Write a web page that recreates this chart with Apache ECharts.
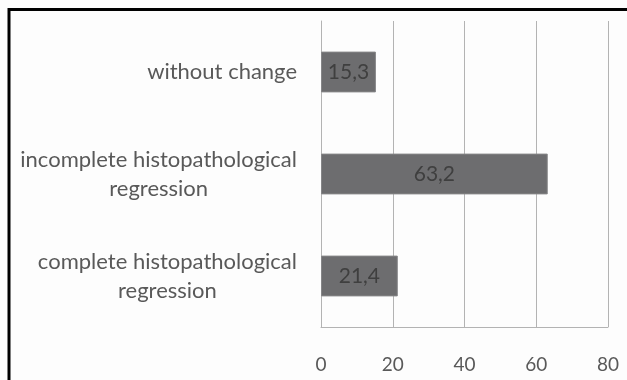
<!DOCTYPE html>
<html>
<head>
<meta charset="utf-8">
<script src="https://cdn.jsdelivr.net/npm/echarts@6/dist/echarts.min.js"></script>
<style>
  html, body { margin: 0; padding: 0; background: #fdfdfd; }
  #chart { width: 627px; height: 380px; }
</style>
</head>
<body>
<div id="chart"></div>
<script>
// bottom to top, as the category axis draws them
const categories = [
  'complete histopathological\nregression',
  'incomplete histopathological\nregression',
  'without change',
];
const values = [21.4, 63.2, 15.3];
const xTicks = [0, 20, 40, 60, 80];

const FONT = 'Lato';
const GRID_GREY = '#b3b3b3';

const chart = echarts.init(document.getElementById('chart'), null, { renderer: 'canvas' });

chart.setOption({
  backgroundColor: '#fdfdfd',
  animation: false,
  graphic: [{
    type: 'rect',
    shape: { x: 9, y: 9.5, width: 640, height: 400 },
    style: { fill: 'none', stroke: '#000', lineWidth: 3 },
    silent: true,
  }],
  grid: { left: 321, right: 19, top: 21, bottom: 53 },
  xAxis: {
    type: 'value',
    min: xTicks[0],
    max: xTicks[xTicks.length - 1],
    interval: xTicks[1] - xTicks[0],
    axisLine: { show: true, lineStyle: { color: GRID_GREY, width: 1 } },
    axisTick: { show: false },
    splitLine: { show: true, lineStyle: { color: GRID_GREY, width: 1 } },
    axisLabel: { margin: 28, color: '#595959', fontFamily: FONT, fontSize: 19 },
  },
  yAxis: {
    type: 'category',
    data: categories,
    axisLine: { show: true, lineStyle: { color: GRID_GREY, width: 1 } },
    axisTick: { show: false },
    axisLabel: {
      margin: 24,
      align: 'right',
      color: '#595959',
      fontFamily: FONT,
      fontSize: 22,
      lineHeight: 29,
      formatter: v => v.split('\n').map(s => '{c|' + s + '}').join('\n'),
      rich: {
        c: { align: 'center', color: '#595959', fontFamily: FONT, fontSize: 22, lineHeight: 29 },
      },
    },
  },
  series: [{
    type: 'bar',
    data: values,
    barWidth: '40%',
    itemStyle: { color: '#6d6d6f', borderColor: '#858587', borderWidth: 1 },
    label: {
      show: true,
      position: 'inside',
      color: '#3f3f3f',
      fontFamily: FONT,
      fontSize: 21,
      formatter: p => String(p.value).replace('.', ','),
    },
  }],
});
</script>
</body>
</html>
